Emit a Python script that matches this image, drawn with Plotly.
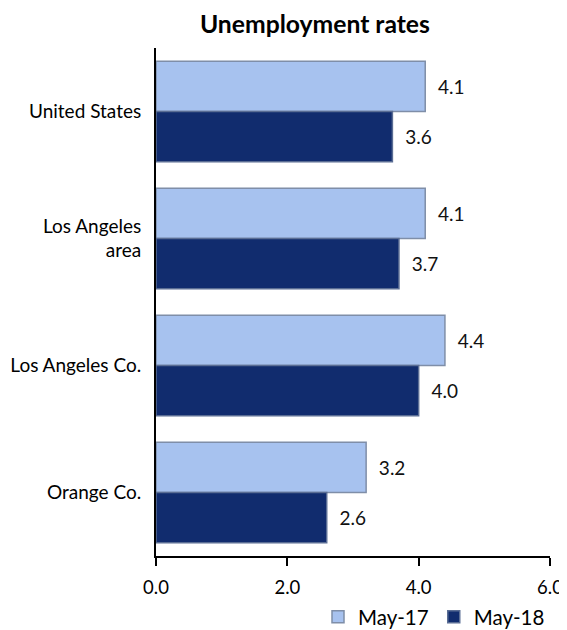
import plotly.graph_objects as go

categories = ["United States", "Los Angeles<br>area", "Los Angeles Co.", "Orange Co."]
may17 = [4.1, 4.1, 4.4, 3.2]
may18 = [3.6, 3.7, 4.0, 2.6]
tick_vals = [0, 2, 4, 6]
tick_text = ["0.0", "2.0", "4.0", "6.0"]

FONT = "Lato, Open Sans, sans-serif"

fig = go.Figure()
fig.add_trace(go.Bar(
    y=categories, x=may17, orientation="h", name="May-17",
    marker=dict(color="#a7c2ef", line=dict(color="#7f8ea8", width=1.5)),
    text=[f"{v:.1f}" for v in may17], texttemplate="  %{text}",
    textposition="outside",
    textfont=dict(size=19, color="#111111"), cliponaxis=False,
))
fig.add_trace(go.Bar(
    y=categories, x=may18, orientation="h", name="May-18",
    marker=dict(color="#112c6e", line=dict(color="#5a6d94", width=1.5)),
    text=[f"{v:.1f}" for v in may18], texttemplate="  %{text}",
    textposition="outside",
    textfont=dict(size=19, color="#111111"), cliponaxis=False,
))

fig.update_layout(
    width=559, height=622,
    margin=dict(l=148, r=17, t=40, b=74),
    paper_bgcolor="white", plot_bgcolor="white",
    font=dict(family=FONT, color="#000000"),
    title=dict(text="<b>Unemployment rates</b>", x=0.549, xanchor="center",
               y=0.974, yanchor="middle", font=dict(size=24.7)),
    barmode="group", bargap=0.21, bargroupgap=0.0,
    xaxis=dict(range=[0, 6], tickvals=tick_vals, ticktext=tick_text,
               showgrid=False, zeroline=False, showline=True,
               linecolor="black", linewidth=2, ticks="outside",
               ticklen=8, tickwidth=2, tickcolor="black",
               ticklabelstandoff=6,
               tickfont=dict(size=18.5), automargin=False),
    yaxis=dict(categoryorder="array", categoryarray=categories,
               autorange="reversed", showgrid=False, showline=True,
               linecolor="black", linewidth=2, ticks="",
               ticklabelstandoff=9, tickfont=dict(size=19),
               automargin=False),
    legend=dict(orientation="h", x=1.0, xanchor="right",
                yref="container", y=0.021, yanchor="middle",
                bgcolor="rgba(0,0,0,0)",
                font=dict(size=20.5), traceorder="normal",
                itemwidth=30),
)

fig.write_html("out.html")
